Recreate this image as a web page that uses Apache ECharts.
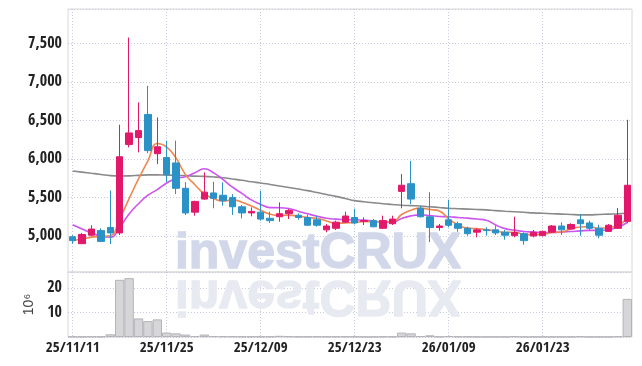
<!DOCTYPE html>
<html><head><meta charset="utf-8">
<script src="https://cdn.jsdelivr.net/npm/echarts@6/dist/echarts.min.js"></script>
<style>html,body{margin:0;padding:0;background:#fff}#c{width:642px;height:366px}</style>
</head><body><div id="c"></div>
<script>
const dates = ['25/11/11','25/11/12','25/11/13','25/11/14','25/11/17','25/11/18','25/11/19','25/11/20','25/11/21','25/11/24',
'25/11/25','25/11/26','25/11/27','25/11/28','25/12/01','25/12/02','25/12/03','25/12/04','25/12/05','25/12/08',
'25/12/09','25/12/10','25/12/11','25/12/12','25/12/15','25/12/16','25/12/17','25/12/18','25/12/19','25/12/22',
'25/12/23','25/12/24','25/12/26','25/12/29','25/12/30','26/01/02','26/01/05','26/01/06','26/01/07','26/01/08',
'26/01/09','26/01/12','26/01/13','26/01/14','26/01/15','26/01/16','26/01/19','26/01/20','26/01/21','26/01/22',
'26/01/23','26/01/26','26/01/27','26/01/28','26/01/29','26/01/30','26/02/02','26/02/03','26/02/04','26/02/05'];
const opens = [4990,4900,5010,5070,5110,5040,6190,6280,6580,6070,
6020,5950,5620,5310,5480,5560,5530,5500,5380,5300,
5310,5230,5250,5290,5270,5240,5210,5080,5100,5180,
5240,5190,5200,5100,5160,5580,5680,5360,5250,5110,
5210,5160,5100,5050,5080,5080,5050,5005,5030,5000,
5005,5050,5130,5090,5210,5170,5100,5060,5100,5190];
const closes = [4940,5020,5090,4930,5040,6030,6340,6370,6110,6160,
5800,5620,5300,5450,5570,5490,5460,5380,5300,5320,
5220,5200,5290,5330,5240,5140,5140,5130,5180,5260,
5170,5200,5120,5200,5220,5660,5480,5250,5110,5130,
5140,5100,5030,5080,5070,5040,5010,5045,4940,5050,
5060,5130,5080,5150,5160,5100,5010,5140,5270,5660];
const lows = [4900,4895,4996,4920,4896,5013,6152,6087,6078,5935,
5700,5545,5273,5264,5471,5360,5394,5273,5230,5256,
5199,5169,5186,5221,5212,5134,5121,5048,5078,5169,
5152,5143,5113,5091,5143,5360,5416,5240,4920,5069,
5113,5056,5004,4983,5004,5013,4952,4983,4887,4983,
4996,5039,5013,5082,5004,5078,4970,5056,5091,5169];
const highs = [5010,5040,5140,5100,5590,6446,7580,6737,6952,6542,
6240,6240,5700,5458,5827,5705,5697,5545,5403,5372,
5589,5316,5437,5351,5295,5277,5264,5156,5199,5316,
5355,5242,5221,5264,5264,5805,5978,5390,5570,5156,
5471,5186,5121,5100,5113,5134,5078,5251,5048,5078,
5070,5143,5178,5165,5286,5199,5147,5156,5364,6511];
const volumes = [0.2,0.15,0.2,0.2,1.1,23.4,24.1,7.6,6.5,7.2,
1.8,1.5,1.0,0.4,1.0,0.4,0.3,0.3,0.2,0.2,
0.2,0.2,0.5,0.3,0.2,0.2,0.2,0.2,0.2,0.2,
0.2,0.1,0.1,0.2,0.2,1.8,1.5,0.4,0.7,0.2,
0.4,0.2,0.2,0.1,0.1,0.1,0.1,0.3,0.1,0.1,
0.1,0.1,0.1,0.1,0.3,0.1,0.1,0.1,0.3,15.6];
const ma5 = [4940,4960,4985,4995,5004,5222,5486,5742,5978,6202,
6156,6012,5798,5666,5548,5486,5454,5470,5440,5390,
5336,5284,5266,5272,5256,5240,5228,5196,5166,5170,
5176,5188,5186,5190,5182,5280,5336,5362,5344,5326,
5222,5146,5102,5096,5084,5064,5046,5049,5021,5017,
5021,5045,5052,5094,5116,5124,5100,5112,5136,5236];
const ma10 = [5147,5091,5039,4996,4983,5113,5286,5420,5530,5603,
5689,5749,5770,5822,5875,5821,5733,5634,5553,5469,
5411,5369,5368,5356,5323,5288,5256,5231,5219,5213,
5208,5208,5191,5178,5176,5228,5262,5274,5267,5254,
5251,5241,5232,5220,5205,5143,5096,5076,5059,5051,
5043,5046,5051,5058,5067,5073,5073,5082,5115,5176];
const maLong = [5844,5830,5815,5800,5785,5780,5782,5788,5795,5795,
5792,5790,5785,5778,5775,5768,5758,5742,5725,5705,
5690,5670,5650,5630,5610,5590,5565,5540,5515,5488,
5460,5445,5432,5420,5410,5400,5395,5390,5380,5370,
5360,5355,5350,5345,5340,5330,5322,5315,5308,5300,
5295,5290,5285,5280,5275,5275,5280,5285,5290,5300];
const watermark = 'investCRUX';
const volumeUnit = '10\u2076';

const ohlc = opens.map((o, i) => [o, closes[i], lows[i], highs[i]]);
const labelFont = '"Open Sans Condensed","Open Sans",sans-serif';
const gridLine = { show: true, lineStyle: { color: '#c6cadc', type: [1, 2], width: 1 } };
const labelStyle = { color: '#222', fontSize: 16, fontWeight: 'bold', fontFamily: labelFont };

const chart = echarts.init(document.getElementById('c'), null, { renderer: 'canvas' });
chart.setOption({
  animation: false,
  backgroundColor: '#fff',
  grid: [
    { left: 68, right: 10, top: 9, height: 263, show: true, borderColor: '#d8d8d8', borderWidth: 1, backgroundColor: 'transparent' },
    { left: 68, right: 10, top: 272, height: 65, show: true, borderColor: '#d8d8d8', borderWidth: 1, backgroundColor: 'transparent' }
  ],
  xAxis: [
    { type: 'category', gridIndex: 0, data: dates, boundaryGap: true,
      axisLine: { show: false }, axisTick: { show: false }, axisLabel: { show: false },
      splitLine: Object.assign({ interval: 9, alignWithLabel: true }, gridLine) },
    { type: 'category', gridIndex: 1, data: dates, boundaryGap: true,
      axisLine: { show: false }, axisTick: { show: false },
      axisLabel: Object.assign({ interval: 9, margin: 4 }, labelStyle, { fontSize: 15 }),
      splitLine: Object.assign({ interval: 9, alignWithLabel: true }, gridLine) }
  ],
  yAxis: [
    { type: 'value', gridIndex: 0, min: 4532, max: 7951, splitNumber: 7,
      axisLine: { show: false }, axisTick: { show: false },
      axisLabel: Object.assign({ showMinLabel: false, showMaxLabel: false, margin: 6,
        formatter: v => v.toLocaleString('en-US') }, labelStyle),
      splitLine: gridLine },
    { type: 'value', gridIndex: 1, min: 0, max: 26.6, interval: 10,
      name: volumeUnit, nameLocation: 'middle', nameRotate: 90, nameGap: 21,
      nameTextStyle: { color: '#444', fontSize: 14, fontFamily: '"Liberation Sans",sans-serif' },
      axisLine: { show: false }, axisTick: { show: false },
      axisLabel: Object.assign({ showMinLabel: false, showMaxLabel: false, margin: 6 }, labelStyle),
      splitLine: gridLine }
  ],
  graphic: [
    { type: 'text', x: 318, y: 279, z: 1, silent: true,
      style: { text: watermark, fontSize: 50, fontWeight: 'bold', fontFamily: '"Liberation Sans",sans-serif', fill: '#d2d8ea', stroke: '#d2d8ea', lineWidth: 1.4, align: 'center', verticalAlign: 'bottom' } },
    { type: 'text', x: 318, y: 269.5, z: 1, scaleY: -1, silent: true,
      style: { text: watermark, fontSize: 50, fontWeight: 'bold', fontFamily: '"Liberation Sans",sans-serif', fill: '#e8eaf2', stroke: '#e8eaf2', lineWidth: 1.4, align: 'center', verticalAlign: 'bottom' } }
  ],
  series: [
    { type: 'candlestick', xAxisIndex: 0, yAxisIndex: 0, data: ohlc, barWidth: 7, z: 5,
      itemStyle: { color: '#e2196b', color0: '#2b92c8', borderColor: '#e2196b', borderColor0: '#2b92c8', borderWidth: 1 } },
    { type: 'line', xAxisIndex: 0, yAxisIndex: 0, data: maLong, smooth: true, showSymbol: false, z: 3,
      lineStyle: { color: '#8a8a8a', width: 1.6 } },
    { type: 'line', xAxisIndex: 0, yAxisIndex: 0, data: ma10, smooth: true, showSymbol: false, z: 4,
      lineStyle: { color: '#cc55ee', width: 1.6 } },
    { type: 'line', xAxisIndex: 0, yAxisIndex: 0, data: ma5, smooth: true, showSymbol: false, z: 4,
      lineStyle: { color: '#ef8750', width: 1.6 } },
    { type: 'bar', xAxisIndex: 1, yAxisIndex: 1, data: volumes, barCategoryGap: '0%', z: 3,
      itemStyle: { color: '#d6d6d9', borderColor: '#b4b4b8', borderWidth: 1 } }
  ]
});
</script></body></html>
